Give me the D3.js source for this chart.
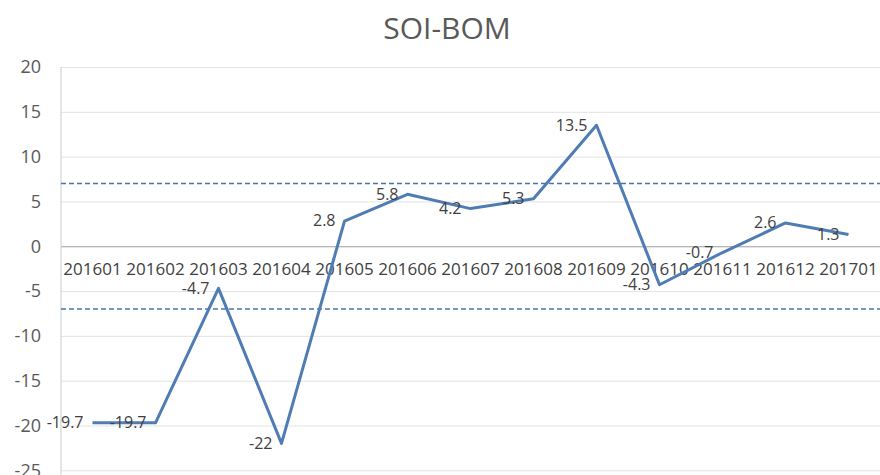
<html>
<head>
<meta charset="utf-8">
<script src="https://d3js.org/d3.v7.min.js"></script>
<style>
  body { margin: 0; background: #fff; }
  text { font-family: "Open Sans", sans-serif; }
</style>
</head>
<body>
<script>
var months = ["201601","201602","201603","201604","201605","201606","201607",
              "201608","201609","201610","201611","201612","201701"];
var soi = [-19.7, -19.7, -4.7, -22, 2.8, 5.8, 4.2, 5.3, 13.5, -4.3, -0.7, 2.6, 1.3];
var yTicks = [20, 15, 10, 5, 0, -5, -10, -15, -20, -25];
var thresholds = [7, -7];

var width = 880, height = 475;
var svg = d3.select("body").append("svg")
    .attr("width", width)
    .attr("height", height);

var x = d3.scaleBand().domain(months).range([61, 880]);
var y = d3.scaleLinear().domain([-25, 20]).range([470.3, 67]);
var cx = d => x(d) + x.bandwidth() / 2;

// title
svg.append("text")
    .attr("x", 447).attr("y", 39)
    .attr("text-anchor", "middle")
    .attr("font-size", 30)
    .attr("fill", "#595959")
    .text("SOI-BOM");

// gridlines + y labels
svg.append("g")
    .attr("transform", "translate(61,0)")
    .call(d3.axisLeft(y).tickValues(yTicks).tickSize(-819).tickPadding(20).tickFormat(d => String(d)))
    .call(g => g.select(".domain").remove())
    .call(g => g.selectAll(".tick line").attr("stroke", "#e3e3e3"))
    .call(g => g.selectAll(".tick text").attr("font-size", 18).attr("fill", "#595959")
        .attr("font-family", "Open Sans, sans-serif"));

// left axis line
svg.append("line")
    .attr("x1", 61).attr("x2", 61)
    .attr("y1", y(20)).attr("y2", height)
    .attr("stroke", "#c8ccd0");

// zero axis with category labels
svg.append("g")
    .attr("transform", `translate(0,${y(0)})`)
    .call(d3.axisBottom(x).tickSize(0).tickPadding(17))
    .call(g => g.select(".domain").attr("stroke", "#a6a6a6").attr("stroke-width", 1.2))
    .call(g => g.selectAll(".tick text").attr("font-size", 17).attr("fill", "#404040")
        .attr("font-family", "Open Sans, sans-serif"));

// threshold dashed lines
svg.selectAll(".thr")
    .data(thresholds).enter()
    .append("line")
    .attr("x1", 61).attr("x2", 880)
    .attr("y1", d => y(d)).attr("y2", d => y(d))
    .attr("stroke", "#4a74ab")
    .attr("stroke-width", 1.6)
    .attr("stroke-dasharray", "5,3");

// series line
var pts = months.map((m, i) => ({m: m, v: soi[i]}));
svg.append("path")
    .datum(pts)
    .attr("fill", "none")
    .attr("stroke", "#4f7cb3")
    .attr("stroke-width", 3)
    .attr("stroke-linejoin", "round")
    .attr("d", d3.line().x(d => cx(d.m)).y(d => y(d.v)));

// data labels, placed left of each point
svg.selectAll(".lbl")
    .data(pts).enter()
    .append("text")
    .attr("x", d => cx(d.m) - 9)
    .attr("y", d => y(d.v) + 1)
    .attr("text-anchor", "end")
    .attr("dominant-baseline", "middle")
    .attr("font-size", 16)
    .attr("fill", "#404040")
    .text(d => String(d.v));
</script>
</body>
</html>
